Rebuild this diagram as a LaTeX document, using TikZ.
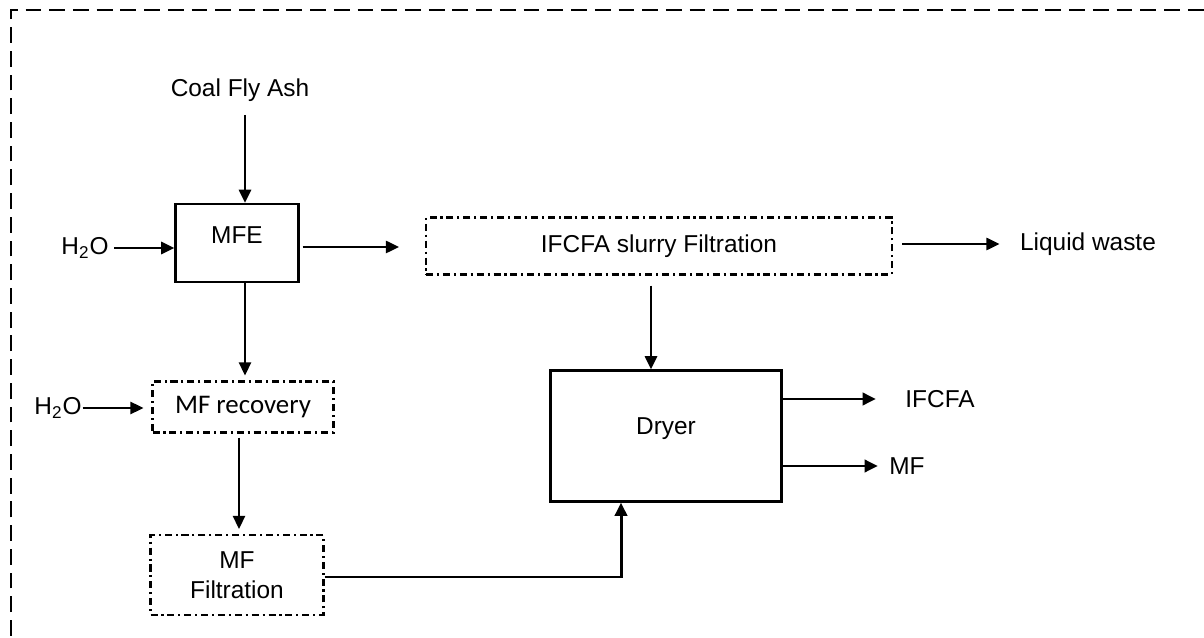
\documentclass[tikz,border=0pt]{standalone}
\usepackage{fontspec}
\setmainfont{Liberation Sans}
\newfontfamily\calibrifont{Carlito}
\usepackage{tikz}
\usetikzlibrary{arrows.meta,positioning}

\begin{document}
\begin{tikzpicture}[
    x=0.02cm, y=-0.02cm,
    box/.style={draw, line width=1.4pt, minimum width=#1, align=center, inner sep=0pt, font=\fontsize{13.9}{17}\selectfont},
    dbox/.style={box=#1, line width=1.2pt, dash pattern=on 4pt off 2.2pt on 1.2pt off 2.2pt},
    lbl/.style={inner sep=3pt, font=\fontsize{13.9}{17}\selectfont},
    arr/.style={-{Triangle[length=7.5pt,width=7pt]}, line width=1.2pt},
    feed/.style={arr, line width=1.7pt}
  ]
  % Frame
  \clip (0,0) rectangle (1204,638);
  \fill[white] (0,0) rectangle (1204,638);
  \draw[line width=0.8pt, dash pattern=on 9pt off 4.5pt] (11,1300) -- (11,10) -- (1300,10);

  % Process units
  \node[box=2.46cm, minimum height=1.56cm, text depth=0.32cm] (mfe) at (237,243) {MFE};
  \node[dbox=9.32cm, minimum height=1.14cm] (slurry) at (659,246) {IFCFA slurry Filtration};
  \node[box=4.62cm, minimum height=2.62cm, text depth=0.4cm] (dryer) at (666,436) {Dryer};
  \node[dbox=3.62cm, minimum height=1.02cm, font=\calibrifont\fontsize{15.3}{18}\selectfont] (recovery) at (243,407) {MF recovery};
  \node[dbox=3.46cm, minimum height=1.6cm] (mffilt) at (237,575) {MF\\Filtration};

  % Streams
  \node[lbl] (ash) at (240,90) {Coal Fly Ash};
  \node[lbl] (water) at (85,248) {H\textsubscript{2}O};
  \node[lbl, inner sep=0.5pt] (water2) at (58,408) {H\textsubscript{2}O};
  \node[lbl] (waste) at (1088,244) {Liquid waste};
  \node[lbl] (ifcfa) at (940,399) {IFCFA};
  \node[lbl] (mf) at (907,466) {MF};

  % Arrows
  \draw[arr, shorten <=0.16cm] ([xshift=0.16cm]mfe.north |- ash.south) -- ([xshift=0.16cm]mfe.north);
  \draw[arr] (water.east) -- (water.east -| mfe.west);
  \draw[arr, shorten <=0.06cm, shorten >=0.52cm] ([yshift=-0.08cm]mfe.east) -- ([yshift=-0.08cm]mfe.east -| slurry.west);
  \draw[arr, shorten <=0.18cm, shorten >=0.3cm] (slurry.east |- waste.west) -- (waste.west);
  \draw[arr, shorten <=0.2cm] ([xshift=-0.3cm]dryer.north |- slurry.south) -- ([xshift=-0.3cm]dryer.north);
  \draw[feed, shorten >=0.48cm] (dryer.east |- ifcfa.west) -- (ifcfa.west);
  \draw[feed, shorten >=0.12cm] (dryer.east |- mf.west) -- (mf.west);
  \draw[arr, shorten >=0.1cm] ([xshift=0.16cm]mfe.south) -- ([xshift=0.16cm]mfe.south |- recovery.north);
  \draw[arr, shorten >=0.16cm] (water2.east) -- (water2.east -| recovery.west);
  \draw[arr, shorten <=0.08cm, shorten >=0.1cm] ([xshift=0.04cm]mffilt.north |- recovery.south) -- ([xshift=0.04cm]mffilt.north);
  \draw[feed] ([yshift=-0.04cm]mffilt.east) -| ([xshift=-0.9cm]dryer.south);
\end{tikzpicture}
\end{document}
